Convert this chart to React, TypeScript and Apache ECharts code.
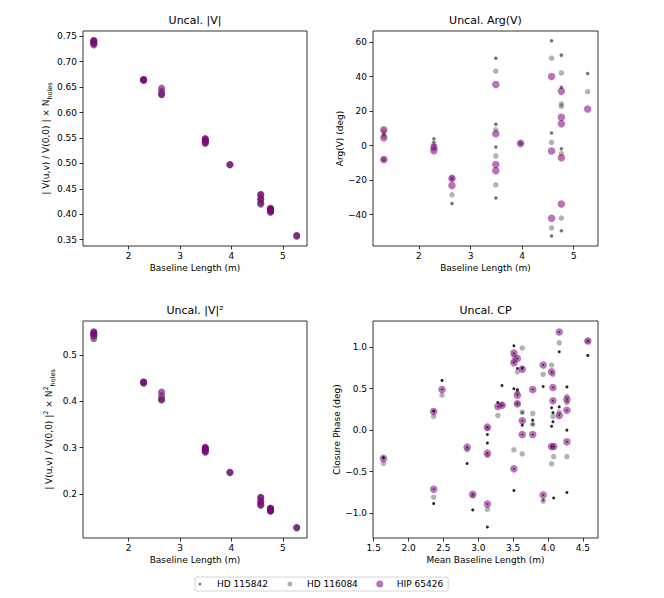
import React, { useEffect, useRef } from 'react';
import * as echarts from 'echarts';

// ---------- Data ----------
const baselineLength = [1.32, 1.32, 1.32, 2.29, 2.29, 2.64, 2.64, 3.49, 3.49, 3.49, 3.49, 3.97, 4.57, 4.57, 4.57, 4.76, 4.76, 4.76, 4.76, 4.76, 5.27];

const visAmpHD115842 = [0.740, 0.736, 0.733, 0.665, 0.663, 0.641, 0.635, 0.547, 0.544, 0.541, 0.539, 0.497, 0.438, 0.429, 0.420, 0.411, 0.409, 0.407, 0.405, 0.404, 0.357];
const visAmpHD116084 = [0.741, 0.737, 0.735, 0.665, 0.663, 0.642, 0.636, 0.548, 0.545, 0.542, 0.540, 0.498, 0.439, 0.430, 0.421, 0.412, 0.410, 0.408, 0.406, 0.405, 0.358];
const visAmpHIP65426 = [0.742, 0.739, 0.736, 0.665, 0.664, 0.648, 0.636, 0.549, 0.546, 0.543, 0.541, 0.498, 0.439, 0.430, 0.422, 0.412, 0.410, 0.409, 0.407, 0.406, 0.358];

const argHD115842 = [7.0, 6.4, -8.3, 4.0, 2.0, -19.2, -33.6, 50.7, 12.4, -0.8, -30.3, 1.2, 60.8, 7.4, -52.4, 52.5, 33.8, 23.6, -1.8, -49.4, 41.9];
const argHD116084 = [8.4, 5.6, -7.9, 0.8, -0.5, -18.8, -28.5, 43.2, 9.2, -6.0, -22.7, 1.4, 50.7, 1.9, -47.7, 42.2, 24.2, 22.8, -4.6, -42.0, 31.3];
const argHIP65426 = [9.2, 4.6, -8.0, -1.0, -2.9, -19.0, -23.1, 35.4, 6.9, -11.0, -14.6, 1.3, 40.1, -3.1, -42.1, 31.5, 16.5, 12.7, -7.0, -33.8, 21.3];

const v2HD115842 = [0.547, 0.541, 0.535, 0.441, 0.439, 0.410, 0.403, 0.300, 0.296, 0.293, 0.290, 0.246, 0.192, 0.183, 0.176, 0.169, 0.167, 0.166, 0.164, 0.163, 0.127];
const v2HD116084 = [0.549, 0.544, 0.540, 0.441, 0.440, 0.413, 0.404, 0.300, 0.297, 0.294, 0.291, 0.247, 0.192, 0.184, 0.176, 0.169, 0.168, 0.166, 0.165, 0.163, 0.128];
const v2HIP65426 = [0.550, 0.546, 0.542, 0.442, 0.440, 0.420, 0.404, 0.301, 0.298, 0.295, 0.292, 0.247, 0.193, 0.184, 0.177, 0.170, 0.168, 0.167, 0.165, 0.164, 0.128];

const cpMeanBaseline = [1.64, 2.36, 2.36, 2.48, 2.84, 2.92, 3.13, 3.13, 3.13, 3.28, 3.34, 3.51, 3.51, 3.51, 3.56, 3.56, 3.56, 3.63, 3.63, 3.63, 3.78, 3.78, 3.93, 3.93, 4.05, 4.07, 4.07, 4.05, 4.08, 4.16, 4.16, 4.27, 4.27, 4.27, 4.57];
const cpHD115842 = [-0.33, 0.23, -0.884, 0.598, -0.402, -0.96, -0.053, -0.156, -1.165, 0.333, 0.537, 1.016, 0.498, -0.727, 0.742, 0.486, 0.474, 0.75, 0.21, 0.06, 0.12, 0.07, 0.525, -0.84, 0.269, 0.21, 0.10, 0.047, -0.816, 0.943, 0.28, 0.52, 0.0, -0.751, 0.899];
const cpHD116084 = [-0.40, 0.164, -0.807, 0.421, -0.237, -0.79, 0.02, -0.305, -0.952, 0.176, 0.31, 0.89, 0.84, -0.237, 0.702, 0.45, 0.32, 0.987, 0.217, -0.286, 0.20, 0.07, 0.67, -0.853, 0.783, 0.67, 0.165, -0.406, -0.318, 1.05, 0.217, 0.405, 0.33, -0.318, 1.07];
const cpHIP65426 = [-0.34, 0.224, -0.711, 0.489, -0.205, -0.771, 0.036, -0.277, -0.888, 0.284, 0.300, 0.927, 0.811, -0.466, 0.863, 0.421, 0.317, 0.733, 0.112, -0.053, 0.489, -0.053, 0.783, -0.78, 0.702, 0.513, 0.353, -0.197, -0.197, 1.18, 0.176, 0.367, 0.24, -0.141, 1.072];

const starNames = ['HD 115842', 'HD 116084', 'HIP 65426'];
const baselineTicks = [2, 3, 4, 5];
const visAmpTicks = [0.35, 0.4, 0.45, 0.5, 0.55, 0.6, 0.65, 0.7, 0.75];
const argTicks = [-40, -20, 0, 20, 40, 60];
const v2Ticks = [0.2, 0.3, 0.4, 0.5];
const cpXTicks = [1.5, 2.0, 2.5, 3.0, 3.5, 4.0, 4.5];
const cpYTicks = [-1.0, -0.5, 0.0, 0.5, 1.0];

// ---------- helpers ----------
const FONT = 'DejaVu Sans';
const pts = (xs: number[], ys: number[]) => xs.map((x, i) => [x, ys[i]]);
const fmt = (d: number) => (v: number) => {
  const s = Math.abs(v).toFixed(d);
  return v < -1e-9 ? '\u2212' + s : s;
};
const circIcon = (r: number) =>
  `path://M0,0M20,20M${10 - r},10A${r},${r},0,1,0,${10 + r},10A${r},${r},0,1,0,${10 - r},10Z`;

const tickCommon = {
  show: true,
  length: 3.5,
  inside: false,
  lineStyle: { color: '#000', width: 0.8 },
};

function makeAxis(
  gridIndex: number,
  min: number,
  max: number,
  ticks: number[],
  decimals: number,
  name: string,
  nameGap: number,
  isY: boolean,
  rich?: any,
) {
  return {
    type: 'value',
    gridIndex,
    min,
    max,
    name,
    nameLocation: 'middle',
    nameGap,
    nameRotate: isY ? 90 : 0,
    nameTextStyle: {
      fontFamily: FONT,
      fontSize: 9,
      color: '#000',
      ...(rich ? { rich, lineHeight: 14 } : {}),
    },
    axisLine: { show: false, onZero: false },
    axisTick: { ...tickCommon, customValues: ticks },
    axisLabel: {
      show: true,
      customValues: ticks,
      formatter: fmt(decimals),
      fontFamily: FONT,
      fontSize: 9,
      color: '#000',
      margin: isY ? 6 : 5,
    },
    splitLine: { show: false },
  };
}

const colors = {
  black: '#000000',
  gray: '#808080',
  purple: '#800080',
};

function scatter(
  name: string,
  xi: number,
  data: number[][],
  color: string,
  opacity: number,
  size: number,
) {
  return {
    type: 'scatter',
    name,
    xAxisIndex: xi,
    yAxisIndex: xi,
    data,
    symbol: 'circle',
    symbolSize: size,
    itemStyle: { color, opacity, borderWidth: 0 },
    emphasis: { disabled: true },
  };
}

const grids = [
  { left: 83, top: 31, width: 224, height: 215 },
  { left: 373, top: 31, width: 225, height: 215 },
  { left: 83, top: 321, width: 224, height: 217 },
  { left: 373, top: 321, width: 225, height: 217 },
];

export default function App() {
  const ref = useRef<HTMLDivElement>(null);
  useEffect(() => {
    if (!ref.current) return;
    const chart = echarts.init(ref.current, undefined, { renderer: 'svg' });

    const titleStyle = { fontFamily: FONT, fontSize: 11, fontWeight: 'normal', color: '#000' };
    const titles = [
      { text: 'Uncal. |V|', g: 0 },
      { text: 'Uncal. Arg(V)', g: 1 },
      { text: 'Uncal. |V|\u00B2', g: 2 },
      { text: 'Uncal. CP', g: 3 },
    ].map((t) => ({
      text: t.text,
      left: grids[t.g].left + grids[t.g].width / 2,
      top: grids[t.g].top - 16,
      textAlign: 'center',
      padding: 0,
      textStyle: titleStyle,
    }));

    const subRich = {
      s: { fontFamily: FONT, fontSize: 6.5, color: '#000', verticalAlign: 'bottom', lineHeight: 8 },
      p: { fontFamily: FONT, fontSize: 6.5, color: '#000', verticalAlign: 'top', lineHeight: 8 },
    };

    const option: any = {
      animation: false,
      backgroundColor: '#ffffff',
      textStyle: { fontFamily: FONT },
      title: titles,
      grid: grids.map((g) => ({
        ...g,
        show: true,
        borderColor: '#000',
        borderWidth: 0.8,
        backgroundColor: 'transparent',
      })),
      xAxis: [
        makeAxis(0, 1.11, 5.47, baselineTicks, 0, 'Baseline Length (m)', 17, false),
        makeAxis(1, 1.11, 5.47, baselineTicks, 0, 'Baseline Length (m)', 17, false),
        makeAxis(2, 1.11, 5.47, baselineTicks, 0, 'Baseline Length (m)', 17, false),
        makeAxis(3, 1.49, 4.716, cpXTicks, 1, 'Mean Baseline Length (m)', 17, false),
      ],
      yAxis: [
        makeAxis(0, 0.3376, 0.7604, visAmpTicks, 2, '| V(u,v) / V(0,0) | \u00D7 N{s|holes}', 30, true, subRich),
        makeAxis(1, -58.2, 66.5, argTicks, 0, 'Arg(V) (deg)', 27, true),
        makeAxis(2, 0.1054, 0.573, v2Ticks, 1, '| V(u,v) / V(0,0) |{p|2} \u00D7 N{p|2}{s|holes}', 27, true, subRich),
        makeAxis(3, -1.298, 1.313, cpYTicks, 1, 'Closure Phase (deg)', 30, true),
      ],
      legend: {
        left: 195,
        top: 577,
        orient: 'horizontal',
        itemWidth: 24,
        itemHeight: 10,
        itemGap: 17,
        padding: [2, 5, 2, 0],
        borderColor: '#cccccc',
        borderWidth: 0.8,
        borderRadius: 2,
        textStyle: { fontFamily: FONT, fontSize: 9, color: '#000' },
        selectedMode: false,
        data: [
          { name: starNames[0], icon: circIcon(3), itemStyle: { color: colors.black, opacity: 0.5 } },
          { name: starNames[1], icon: circIcon(5), itemStyle: { color: colors.gray, opacity: 0.6 } },
          { name: starNames[2], icon: circIcon(7), itemStyle: { color: colors.purple, opacity: 0.55 } },
        ],
      },
      series: [
        // |V|
        scatter(starNames[0], 0, pts(baselineLength, visAmpHD115842), colors.black, 0.5, 7),
        scatter(starNames[1], 0, pts(baselineLength, visAmpHD116084), colors.gray, 0.6, 7),
        scatter(starNames[2], 0, pts(baselineLength, visAmpHIP65426), colors.purple, 0.65, 7),
        // Arg(V)
        scatter(starNames[0], 1, pts(baselineLength, argHD115842), colors.black, 0.55, 3.5),
        scatter(starNames[1], 1, pts(baselineLength, argHD116084), colors.gray, 0.6, 5.5),
        scatter(starNames[2], 1, pts(baselineLength, argHIP65426), colors.purple, 0.55, 7.5),
        // |V|^2
        scatter(starNames[0], 2, pts(baselineLength, v2HD115842), colors.black, 0.5, 7),
        scatter(starNames[1], 2, pts(baselineLength, v2HD116084), colors.gray, 0.6, 7),
        scatter(starNames[2], 2, pts(baselineLength, v2HIP65426), colors.purple, 0.65, 7),
        // CP
        scatter(starNames[0], 3, pts(cpMeanBaseline, cpHD115842), colors.black, 0.85, 3),
        scatter(starNames[1], 3, pts(cpMeanBaseline, cpHD116084), colors.gray, 0.6, 5.5),
        scatter(starNames[2], 3, pts(cpMeanBaseline, cpHIP65426), colors.purple, 0.55, 7.5),
        {
          ...scatter('HIP 65426 centre', 3, pts(cpMeanBaseline, cpHIP65426), '#200020', 0.7, 1.8),
          silent: true,
        },
      ],
    };
    chart.setOption(option);
    return () => chart.dispose();
  }, []);
  return (
    <div
      ref={ref}
      style={{ position: 'absolute', left: 0, top: 0, width: 664, height: 598, background: '#fff' }}
    />
  );
}
